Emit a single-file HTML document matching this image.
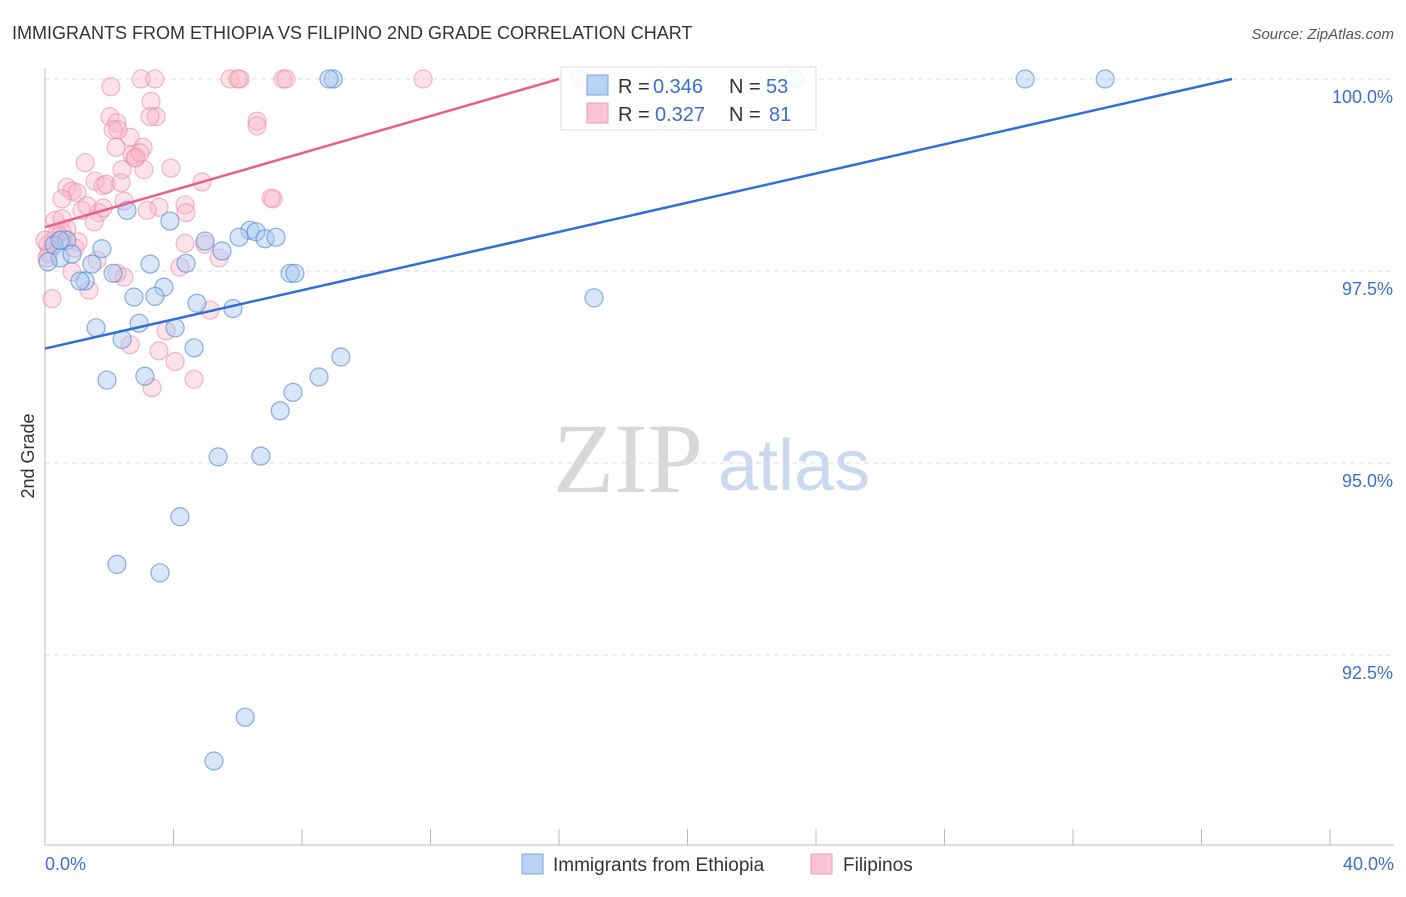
<!DOCTYPE html>
<html><head><meta charset="utf-8">
<style>
body{margin:0;background:#fff;font-family:"Liberation Sans",sans-serif;}
svg text{font-family:"Liberation Sans",sans-serif;}
</style></head>
<body>
<svg id="chart" width="1406" height="892" viewBox="0 0 1406 892" xmlns="http://www.w3.org/2000/svg">
<text x="12" y="39" font-size="18" fill="#333">IMMIGRANTS FROM ETHIOPIA VS FILIPINO 2ND GRADE CORRELATION CHART</text>
<text x="1394" y="39" font-size="15" fill="#555" text-anchor="end" font-style="italic">Source: ZipAtlas.com</text>
<g>
<text x="553" y="492" font-size="100" fill="#d8d8d8" style="font-family:'Liberation Serif',serif">ZIP</text>
<text x="718" y="490" font-size="72" fill="#c9d9ef">atlas</text>
</g>
<text transform="translate(34,456) rotate(-90)" font-size="18" fill="#333" text-anchor="middle">2nd Grade</text>
<g id="grid"></g>
<g id="axes"></g>
<g id="pinkPts"></g>
<g id="bluePts"></g>
<g id="lines"></g>
<g>
<rect x="561" y="67" width="255" height="63" fill="#fff" fill-opacity="0.85" stroke="#ddd"/>
<rect x="587" y="75" width="21" height="20" fill="#b9d3f5" stroke="#7aa6e0"/>
<text x="618" y="93" font-size="20" fill="#333">R = </text><text x="653" y="93" font-size="20" fill="#3a6fd0">0.346</text>
<text x="729" y="93" font-size="20" fill="#333">N = </text><text x="766" y="93" font-size="20" fill="#3a6fd0">53</text>
<rect x="587" y="103" width="21" height="20" fill="#f9c5d4" stroke="#eb9ab4"/>
<text x="618" y="121" font-size="20" fill="#333">R = </text><text x="655" y="121" font-size="20" fill="#3a6fd0">0.327</text>
<text x="729" y="121" font-size="20" fill="#333">N = </text><text x="769" y="121" font-size="20" fill="#3a6fd0">81</text>
</g>
<g>
<rect x="522" y="854" width="21" height="20" fill="#b9d3f5" stroke="#7aa6e0"/>
<text x="553" y="871" font-size="19" fill="#333">Immigrants from Ethiopia</text>
<rect x="811" y="854" width="21" height="20" fill="#f9c5d4" stroke="#eb9ab4"/>
<text x="843" y="871" font-size="19" fill="#333">Filipinos</text>
</g>
</svg>
<script>
const xTicks=[0,4,8,12,16,20,24,28,32,36,40];
const yTicks=[100,97.5,95,92.5];
const yTickLabels=["100.0%","97.5%","95.0%","92.5%"];
const xEndLabels=["0.0%","40.0%"];
const blueX=[8.97,8.84,23.32,30.51,33.00,2.55,3.89,6.38,6.57,6.04,6.85,7.19,4.98,5.51,1.77,0.68,0.28,0.47,1.46,3.27,4.39,2.12,1.25,7.63,7.78,3.70,2.77,3.42,4.73,5.85,17.09,1.59,2.93,4.05,2.40,4.64,9.21,1.93,3.11,8.53,7.72,7.32,5.39,6.72,4.20,2.24,3.58,6.23,5.26,0.09,0.84,1.09,0.47];
const blueY=[100,100,100,100,100,98.29,98.15,98.03,98.01,97.94,97.92,97.94,97.89,97.76,97.79,97.90,97.84,97.67,97.59,97.59,97.60,97.47,97.37,97.47,97.47,97.29,97.16,97.17,97.08,97.01,97.15,96.76,96.82,96.76,96.61,96.50,96.38,96.08,96.13,96.12,95.92,95.68,95.08,95.09,94.30,93.68,93.57,91.69,91.12,97.62,97.72,97.37,97.90];
const pinkX=[2.99,3.42,5.76,6.07,7.41,7.50,11.77,16.65,2.05,3.30,2.02,2.24,3.46,3.27,2.65,3.05,2.21,2.71,2.83,3.92,3.08,2.40,1.25,4.89,6.60,6.60,7.10,7.04,0.68,0.84,1.00,1.56,1.81,1.90,0.53,2.37,2.46,1.15,1.68,1.31,0.31,0.53,0.68,0.93,1.03,1.81,3.55,4.36,4.39,0.25,0.09,0.12,0.37,0.53,4.36,4.98,5.42,4.20,1.62,2.46,2.24,1.37,0.84,0.22,5.14,3.77,2.65,3.55,4.05,4.64,3.33,0.0,2.80,2.27,6.01,2.96,3.18,2.12,1.53,0.56,0.06];
const pinkY=[100,100,100,100,100,100,100,100,99.90,99.71,99.51,99.43,99.51,99.51,99.24,99.11,99.11,99.01,98.98,98.84,98.82,98.82,98.91,98.66,99.45,99.39,98.44,98.45,98.59,98.54,98.52,98.67,98.61,98.63,98.44,98.65,98.41,98.29,98.26,98.35,98.16,98.18,98.05,97.80,97.88,98.32,98.33,98.36,98.26,97.90,97.84,97.73,97.99,98.01,97.86,97.85,97.67,97.55,97.64,97.42,97.47,97.25,97.49,97.14,96.99,96.72,96.54,96.46,96.32,96.09,95.98,97.90,98.97,99.34,100,99.04,98.29,99.34,98.14,97.92,97.67];
const blueTrend=[[0,96.49],[36.95,100]];
const pinkTrend=[[0,98.07],[16.0,100]];
const NS="http://www.w3.org/2000/svg";
const X0=45,X1=1330,YT=79,PX_PER=76.8;
function sx(v){return X0+(X1-X0)*v/40;}
function sy(v){return YT+(100-v)*PX_PER;}
function mk(tag,attrs,parent){const e=document.createElementNS(NS,tag);for(const k in attrs)e.setAttribute(k,attrs[k]);parent.appendChild(e);return e;}
const grid=document.getElementById('grid'),axes=document.getElementById('axes');
yTicks.forEach((t,i)=>{
 const l=mk('line',{x1:X0,x2:1394,y1:sy(t),y2:sy(t),stroke:'#ddd','stroke-dasharray':'5,4'},grid);
 
 
 const tx=mk('text',{x:1393,y:sy(t)+24,'font-size':18,fill:'#3a6fd0','text-anchor':'end'},axes);
 tx.textContent=yTickLabels[i];
 
 
});
const ya=mk('line',{x1:X0,x2:X0,y1:68,y2:845,stroke:'#bbb'},axes);


const xa=mk('line',{x1:X0,x2:1394,y1:845,y2:845,stroke:'#bbb'},axes);


xTicks.forEach(t=>{
 const l=mk('line',{x1:sx(t),x2:sx(t),y1:829,y2:845,stroke:'#bbb'},axes);
 
 
});
[[0,'start',45],[1,'end',1394]].forEach(([i,a,x])=>{
 const tx=mk('text',{x:x,y:870,'font-size':18,fill:'#3a6fd0','text-anchor':a},axes);
 tx.textContent=xEndLabels[i];
 
 
});
const pg=document.getElementById('pinkPts');
pinkX.forEach((x,i)=>{
 const c=mk('circle',{cx:sx(x),cy:sy(pinkY[i]),r:9,fill:'#f7b6c9','fill-opacity':0.4,stroke:'#e98aa8','stroke-opacity':0.6,'stroke-width':1.2},pg);
 
 
});
const bg=document.getElementById('bluePts');
blueX.forEach((x,i)=>{
 const c=mk('circle',{cx:sx(x),cy:sy(blueY[i]),r:9,fill:'#a9c8f0','fill-opacity':0.45,stroke:'#5b8fd9','stroke-opacity':0.7,'stroke-width':1.2},bg);
 
 
});
const lg=document.getElementById('lines');
const bl=mk('line',{x1:sx(blueTrend[0][0]),y1:sy(blueTrend[0][1]),x2:sx(blueTrend[1][0]),y2:sy(blueTrend[1][1]),stroke:'#2f6fd6','stroke-width':2.5},lg);


const pl=mk('line',{x1:sx(pinkTrend[0][0]),y1:sy(pinkTrend[0][1]),x2:sx(pinkTrend[1][0]),y2:sy(pinkTrend[1][1]),stroke:'#e8608a','stroke-width':2.5},lg);


</script>
</body></html>
